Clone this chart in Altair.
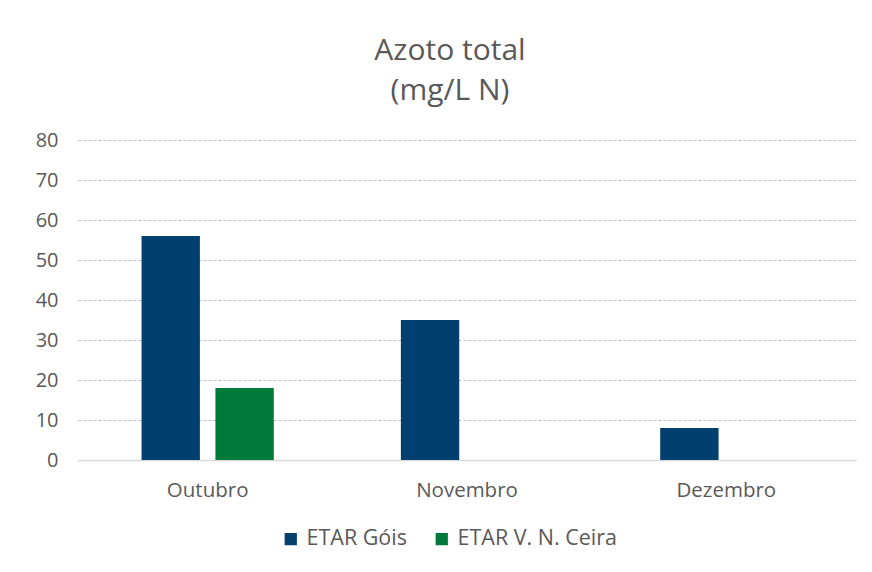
import altair as alt
import pandas as pd

months = ["Outubro", "Novembro", "Dezembro"]
series = ["ETAR Góis", "ETAR V. N. Ceira"]
gois = [56, 35, 8]
ceira = [18, None, None]

rows = []
for i, m in enumerate(months):
    rows.append({"Mês": m, "Série": series[0], "Valor": gois[i]})
    rows.append({"Mês": m, "Série": series[1], "Valor": ceira[i]})
df = pd.DataFrame(rows)

FONT = "Open Sans"
GREY = "#595959"

chart = alt.Chart(df).mark_bar().encode(
    x=alt.X("Mês:N", sort=months, title=None,
            scale=alt.Scale(paddingInner=0.49, paddingOuter=0.245),
            axis=alt.Axis(labelAngle=0, ticks=False, domainColor="#D9D9D9",
                          domainWidth=1.5, labelPadding=20, labelFontSize=20.5,
                          labelColor=GREY, labelFont=FONT, grid=False)),
    xOffset=alt.XOffset("Série:N", sort=series, scale=alt.Scale(paddingInner=0.21)),
    y=alt.Y("Valor:Q", title=None,
            scale=alt.Scale(domain=[0, 80]),
            axis=alt.Axis(values=list(range(0, 90, 10)), ticks=False, domain=False,
                          gridDash=[3, 2], gridColor="#BFBFBF", labelPadding=20,
                          labelFontSize=20, labelColor=GREY, labelFont=FONT)),
    color=alt.Color("Série:N", sort=series,
                    scale=alt.Scale(domain=series, range=["#003F6E", "#007A3A"]),
                    legend=alt.Legend(title=None, orient="none", direction="horizontal",
                                      legendX=202, legendY=388, symbolType="square",
                                      symbolSize=150, symbolStrokeWidth=0,
                                      labelFontSize=21.5, labelColor=GREY, labelFont=FONT,
                                      columnPadding=24, labelOffset=5)),
).properties(
    width=778,
    height=320,
    title=alt.TitleParams(["Azoto total", "(mg/L N)"], fontSize=30, font=FONT,
                          fontWeight="normal", color=GREY, anchor="middle",
                          offset=24, dx=-17, lineHeight=40),
    autosize=alt.AutoSizeParams(type="none"),
    padding={"left": 70, "top": 132, "right": 8, "bottom": 104},
).configure_view(stroke=None)

chart.save("out.html", embed_options={"renderer": "svg", "actions": False})
